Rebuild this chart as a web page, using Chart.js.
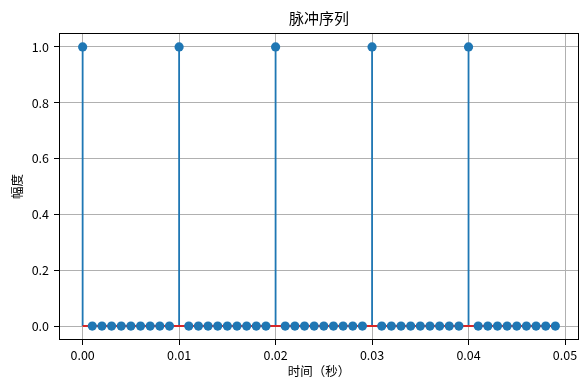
<!DOCTYPE html>
<html><head><meta charset="utf-8">
<script src="https://cdn.jsdelivr.net/npm/chart.js@4.4.1/dist/chart.umd.min.js"></script>
<style>html,body{margin:0;padding:0;background:#fff}canvas{display:block}</style>
</head>
<body>
<canvas id="c" width="588" height="390"></canvas>
<script>
const times = [
  0.000,0.001,0.002,0.003,0.004,0.005,0.006,0.007,0.008,0.009,
  0.010,0.011,0.012,0.013,0.014,0.015,0.016,0.017,0.018,0.019,
  0.020,0.021,0.022,0.023,0.024,0.025,0.026,0.027,0.028,0.029,
  0.030,0.031,0.032,0.033,0.034,0.035,0.036,0.037,0.038,0.039,
  0.040,0.041,0.042,0.043,0.044,0.045,0.046,0.047,0.048,0.049
];
const amplitudes = [
  1,0,0,0,0,0,0,0,0,0,
  1,0,0,0,0,0,0,0,0,0,
  1,0,0,0,0,0,0,0,0,0,
  1,0,0,0,0,0,0,0,0,0,
  1,0,0,0,0,0,0,0,0,0
];
const xTicks = [0.00,0.01,0.02,0.03,0.04,0.05];
const yTicks = [0.0,0.2,0.4,0.6,0.8,1.0];
const xRange = [-0.00245, 0.05145];
const yRange = [-0.05, 1.05];
const titleText = '脉冲序列';
const xLabel = '时间（秒）';
const yLabel = '幅度';

const FONT = '"Noto Sans CJK SC", "DejaVu Sans", sans-serif';
const blue = '#1f77b4';
const red = '#d62728';

const markerData = times.map((t,i)=>({x:t,y:amplitudes[i]}));
const stemData = [];
times.forEach((t,i)=>{
  stemData.push({x:t,y:0},{x:t,y:amplitudes[i]},{x:t,y:null});
});
const baseData = [{x:times[0],y:0},{x:times[times.length-1],y:0}];

const framePlugin = {
  id:'frame',
  afterDraw(chart){
    const a = chart.chartArea, ctx = chart.ctx;
    ctx.save();
    ctx.strokeStyle = '#000';
    ctx.lineWidth = 1;
    ctx.strokeRect(Math.round(a.left)+0.5, Math.round(a.top)+0.5, Math.round(a.right-a.left)-1, Math.round(a.bottom-a.top)-1);
    ctx.restore();
  }
};

new Chart(document.getElementById('c'), {
  type:'scatter',
  data:{datasets:[
    {label:'markers', data:markerData, showLine:false, pointRadius:4.6, pointHoverRadius:4.6,
     backgroundColor:blue, borderColor:blue, pointBorderWidth:0, order:0},
    {label:'baseline', data:baseData, showLine:true, pointRadius:0, borderColor:red, borderWidth:2, order:1},
    {label:'stems', data:stemData, showLine:true, spanGaps:false, pointRadius:0, borderColor:blue, borderWidth:1.8, order:2}
  ]},
  options:{
    responsive:false, animation:false, devicePixelRatio:1,
    layout:{padding:{left:0,right:9,top:0,bottom:0}},
    plugins:{
      legend:{display:false}, tooltip:{enabled:false},
      title:{display:true, text:titleText, fullSize:false, color:'#000',
        font:{family:FONT, size:15, weight:'normal', lineHeight:1.2},
        padding:{top:9,bottom:6}}
    },
    scales:{
      x:{type:'linear', min:xRange[0], max:xRange[1],
        afterBuildTicks(s){ s.ticks = xTicks.map(v=>({value:v})); },
        afterFit(s){ s.height = 50; },
        ticks:{color:'#000', font:{family:FONT,size:12.5}, padding:3, maxRotation:0,
          callback:(v)=>Number(v).toFixed(2)},
        grid:{color:'#b0b0b0', lineWidth:1, tickColor:'#000', tickLength:5, drawTicks:true},
        border:{display:false},
        title:{display:true, text:xLabel, color:'#000', font:{family:FONT,size:12.5,lineHeight:1.2}, padding:{top:0,bottom:11}}
      },
      y:{type:'linear', min:yRange[0], max:yRange[1],
        afterBuildTicks(s){ s.ticks = yTicks.map(v=>({value:v})); },
        afterFit(s){ s.width = 59; },
        ticks:{color:'#000', font:{family:FONT,size:12.5}, padding:5,
          callback:(v)=>Number(v).toFixed(1)},
        grid:{color:'#b0b0b0', lineWidth:1, tickColor:'#000', tickLength:5, drawTicks:true},
        border:{display:false},
        title:{display:true, text:yLabel, color:'#000', font:{family:FONT,size:12.5,lineHeight:1.2}, padding:{top:10,bottom:0}}
      }
    }
  },
  plugins:[framePlugin]
});
</script>
</body></html>
